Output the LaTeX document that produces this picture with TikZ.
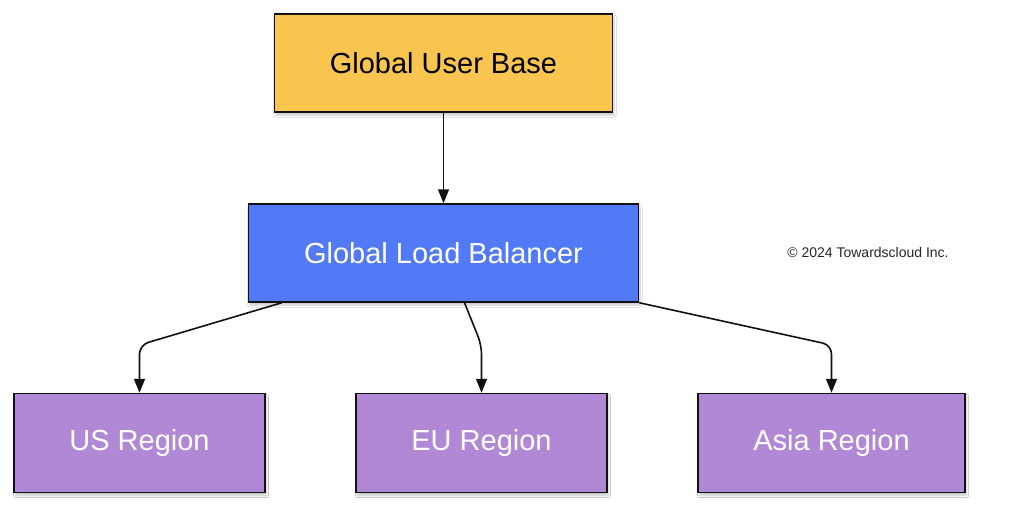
\documentclass[tikz,border=0pt]{standalone}
\usepackage{fontspec}
\setmainfont{Liberation Sans}
\usetikzlibrary{arrows.meta,shadows.blur}
\definecolor{ubyellow}{HTML}{FAC54E}
\definecolor{lbblue}{HTML}{527AF7}
\definecolor{regpurple}{HTML}{B088D6}
\definecolor{edgedark}{HTML}{111111}
\begin{document}
\begin{tikzpicture}[x=1pt,y=-1pt,
  box/.style={draw=edgedark, line width=1.5pt, rectangle, minimum height=98pt,
    font=\fontsize{29}{33}\selectfont,
    blur shadow={shadow blur steps=6, shadow xshift=1.5pt, shadow yshift=-3pt, shadow opacity=22}},
  conn/.style={draw=edgedark, line width=1.6pt, rounded corners=9pt,
    -{Triangle[length=14pt,width=11pt]}}
]
\useasboundingbox[fill=white] (0,0) rectangle (1024,508);
\node[box, fill=ubyellow, text=black, minimum width=338pt] (ub) at (443.5,63) {Global User Base};
\node[box, fill=lbblue, text=white, minimum width=390pt] (lb) at (443.5,253) {Global Load Balancer};
\node[box, fill=regpurple, text=white, minimum width=251pt, minimum height=99pt] (us) at (139.5,443) {US Region};
\node[box, fill=regpurple, text=white, minimum width=251pt, minimum height=99pt] (eu) at (481.5,443) {EU Region};
\node[box, fill=regpurple, text=white, minimum width=267pt, minimum height=99pt] (asia) at (831.5,443) {Asia Region};
\node[font=\fontsize{14}{16}\selectfont, text=black!85] (copy) at (868,252) {© 2024 Towardscloud Inc.};
\coordinate (by) at (0,345);
\draw[conn] (ub.south) -- (lb.north);
\draw[conn] ([xshift=34pt]lb.south west) -- (us.north |- by) -- (us.north);
\draw[conn] ([xshift=21pt]lb.south) -- (eu.north |- by) -- (eu.north);
\draw[conn] (lb.south east) -- (asia.north |- by) -- (asia.north);
\end{tikzpicture}
\end{document}
